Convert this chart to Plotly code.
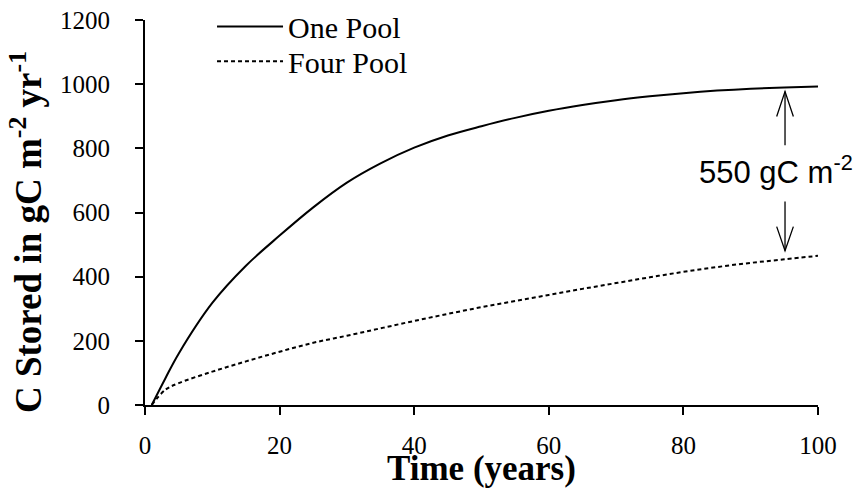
import plotly.graph_objects as go

# Data
time_years = [1, 3, 5, 10, 15, 20, 25, 30, 35, 40, 45, 50, 55, 60, 65, 70, 75, 80, 85, 90, 95, 100]
one_pool = [0, 82, 160, 318, 434, 528, 616, 693, 753, 802, 840, 869, 895, 917, 935, 950, 962, 972, 980, 986, 990, 993]
four_pool = [0, 47, 68, 104, 136, 166, 194, 216, 239, 262, 284, 305, 324, 343, 362, 380, 398, 415, 430, 443, 454, 465]

x_ticks = [0, 20, 40, 60, 80, 100]
y_ticks = [0, 200, 400, 600, 800, 1000, 1200]

x_title = "<b>Time (years)</b>"
y_title = "<b>C Stored in gC m<sup>-2</sup> yr<sup>-1</sup></b>"
annotation_text = "550 gC m<sup>-2</sup>"

SERIF = "Liberation Serif, Times New Roman, serif"
SANS = "Liberation Sans, Arial, sans-serif"

fig = go.Figure()
fig.add_trace(go.Scatter(
    x=time_years, y=one_pool, mode="lines", name="One Pool", legend="legend",
    line=dict(color="black", width=2, shape="spline", smoothing=1),
))
fig.add_trace(go.Scatter(
    x=time_years, y=four_pool, mode="lines", name="Four Pool", legend="legend2",
    line=dict(color="black", width=2, dash="4px,3px", shape="spline", smoothing=1),
))

# Double-headed gap annotation (open V arrowheads)
ax = 95.1
dx = 1.24
arrow_paths = [
    f"M{ax},810 L{ax},977",
    f"M{ax-dx},899 L{ax},977 L{ax+dx},899",
    f"M{ax},634 L{ax},481",
    f"M{ax-dx},556 L{ax},481 L{ax+dx},556",
]
for p in arrow_paths:
    fig.add_shape(type="path", path=p, xref="x", yref="y",
                  line=dict(color="black", width=1.3))

fig.add_annotation(
    x=82.0, y=732, xref="x", yref="y", xanchor="left", yanchor="middle",
    text=annotation_text, showarrow=False,
    font=dict(family=SANS, size=31, color="black"),
)

# Axis titles as annotations for precise placement
fig.add_annotation(
    x=0.5007, y=-0.166, xref="paper", yref="paper", xanchor="center", yanchor="middle",
    text=x_title, showarrow=False,
    font=dict(family=SERIF, size=35, color="black"),
)
fig.add_annotation(
    x=-0.177, y=0.449, xref="paper", yref="paper", xanchor="center", yanchor="middle",
    text=y_title, showarrow=False, textangle=-90,
    font=dict(family=SERIF, size=37, color="black"),
)

legend_style = dict(
    xref="paper", yref="container", xanchor="left", yanchor="top",
    bgcolor="rgba(0,0,0,0)",
    font=dict(family=SERIF, size=30, color="black"),
    itemwidth=66,
)

fig.update_layout(
    width=857, height=498,
    margin=dict(l=145, r=39, t=20, b=93, autoexpand=False),
    paper_bgcolor="white", plot_bgcolor="white",
    showlegend=True,
    legend=dict(x=0.0996, y=0.999, **legend_style),
    legend2=dict(x=0.0996, y=0.929, **legend_style),
    font=dict(family=SERIF, color="black"),
)

fig.update_xaxes(
    range=[0, 100], tickvals=x_ticks, ticktext=[str(v) for v in x_ticks],
    showline=True, linecolor="black", linewidth=2, mirror=False,
    ticks="outside", ticklen=8, tickwidth=2, tickcolor="black",
    showgrid=False, zeroline=False, ticklabelstandoff=9,
    tickfont=dict(family=SERIF, size=25, color="black"),
)
fig.update_yaxes(
    range=[0, 1200], tickvals=y_ticks, ticktext=[str(v) for v in y_ticks],
    showline=True, linecolor="black", linewidth=2, mirror=False,
    ticks="outside", ticklen=8, tickwidth=2, tickcolor="black",
    showgrid=False, zeroline=False, ticklabelstandoff=20,
    tickfont=dict(family=SERIF, size=25, color="black"),
)

fig.write_html("out.html")
